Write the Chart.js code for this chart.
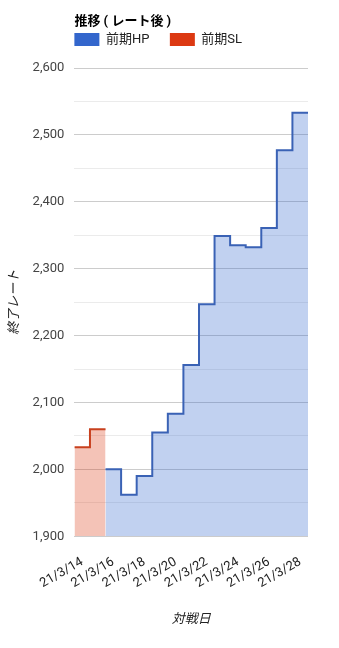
<!DOCTYPE html>
<html><head><meta charset="utf-8">
<script src="https://cdn.jsdelivr.net/npm/chart.js@4/dist/chart.umd.min.js"></script>
<style>html,body{margin:0;padding:0;background:#fff}#wrap{width:339px;height:648px;position:relative}</style>
</head><body><div id="wrap"><canvas id="c"></canvas></div>
<script>
const dates = ['21/3/14','21/3/15','21/3/16','21/3/17','21/3/18','21/3/19','21/3/20','21/3/21','21/3/22','21/3/23','21/3/24','21/3/25','21/3/26','21/3/27','21/3/28'];
const hpValues = [null,null,2000,1962,1990,2055,2083,2156,2247,2349,2335,2332,2361,2477,2533];
const slValues = [2033,2060,null,null,null,null,null,null,null,null,null,null,null,null,null];
const seriesNames = ['前期HP','前期SL'];
const yMin = 1900, yMax = 2600;
const chartTitle = '推移 ( レート後 )';
const yTitle = '終了レート';
const xTitle = '対戦日';

function toSteps(values){
  const pts = []; let last = -1;
  values.forEach((v,i)=>{ if(v!==null){ pts.push({x:i,y:v}); last=i; } });
  if(last>=0) pts.push({x:last+1,y:values[last]});
  return pts;
}

Chart.defaults.font.family = "Roboto, 'Noto Sans CJK JP', sans-serif";
Chart.defaults.font.size = 13;
Chart.defaults.color = '#444';

const legendPlace = {
  id:'legendPlace',
  afterLayout(chart){
    const lg = chart.legend;
    const P = lg.options.labels.padding;
    lg.left = chart.chartArea.left - P;
    lg.top = 33 - P;
  }
};

new Chart(document.getElementById('c'), {
  type:'line',
  data:{
    datasets:[
      {label:seriesNames[0], data:toSteps(hpValues), stepped:'before', borderColor:'#3a62b5', backgroundColor:'rgba(51,102,204,0.3)', fill:'start', borderWidth:2, pointRadius:0},
      {label:seriesNames[1], data:toSteps(slValues), stepped:'before', borderColor:'#c8401e', backgroundColor:'rgba(220,57,18,0.3)', fill:'start', borderWidth:2, pointRadius:0}
    ]
  },
  options:{
    responsive:true, maintainAspectRatio:false, animation:false,
    layout:{padding:{left:0,right:31,top:0,bottom:10}},
    plugins:{
      title:{display:true, text:chartTitle, align:'start', fullSize:false, color:'#000', font:{weight:'bold',size:13}, padding:{top:13.5,bottom:0}},
      legend:{display:true, position:'top', align:'start', fullSize:false, maxHeight:38.9,
        labels:{boxWidth:25, boxHeight:13, padding:20.5, color:'#222', font:{size:13},
          generateLabels(chart){
            return chart.data.datasets.map((d,i)=>({text:d.label, fillStyle:['#3366cc','#dc3912'][i], strokeStyle:['#3366cc','#dc3912'][i], lineWidth:0, datasetIndex:i, fontColor:'#222'}));
          }}},
      tooltip:{enabled:false}
    },
    scales:{
      x:{type:'linear', min:0, max:dates.length,
        grid:{display:false, drawTicks:false}, border:{display:false},
        afterBuildTicks(axis){ axis.ticks = dates.map((d,i)=>({value:i+0.5})).filter((t,i)=>i%2===0); },
        ticks:{autoSkip:false, minRotation:30, maxRotation:30, padding:18, color:'#222',
          callback:(v)=>dates[Math.round(v-0.5)]},
        title:{display:true, text:xTitle, color:'#222', font:{style:'italic',size:13}, padding:{top:3,bottom:10}}
      },
      y:{min:yMin, max:yMax,
        grid:{drawTicks:false, color:(c)=> (c.tick && c.tick.value%100===0) ? '#cccccc' : '#ebebeb'},
        border:{display:false},
        ticks:{stepSize:50, padding:10, color:'#444',
          callback:(v)=> v%100===0 ? v.toLocaleString('en-US') : ''},
        title:{display:true, text:yTitle, color:'#222', font:{style:'italic',size:13}, padding:{top:7,bottom:0}}
      }
    }
  },
  plugins:[legendPlace]
});
</script></body></html>
